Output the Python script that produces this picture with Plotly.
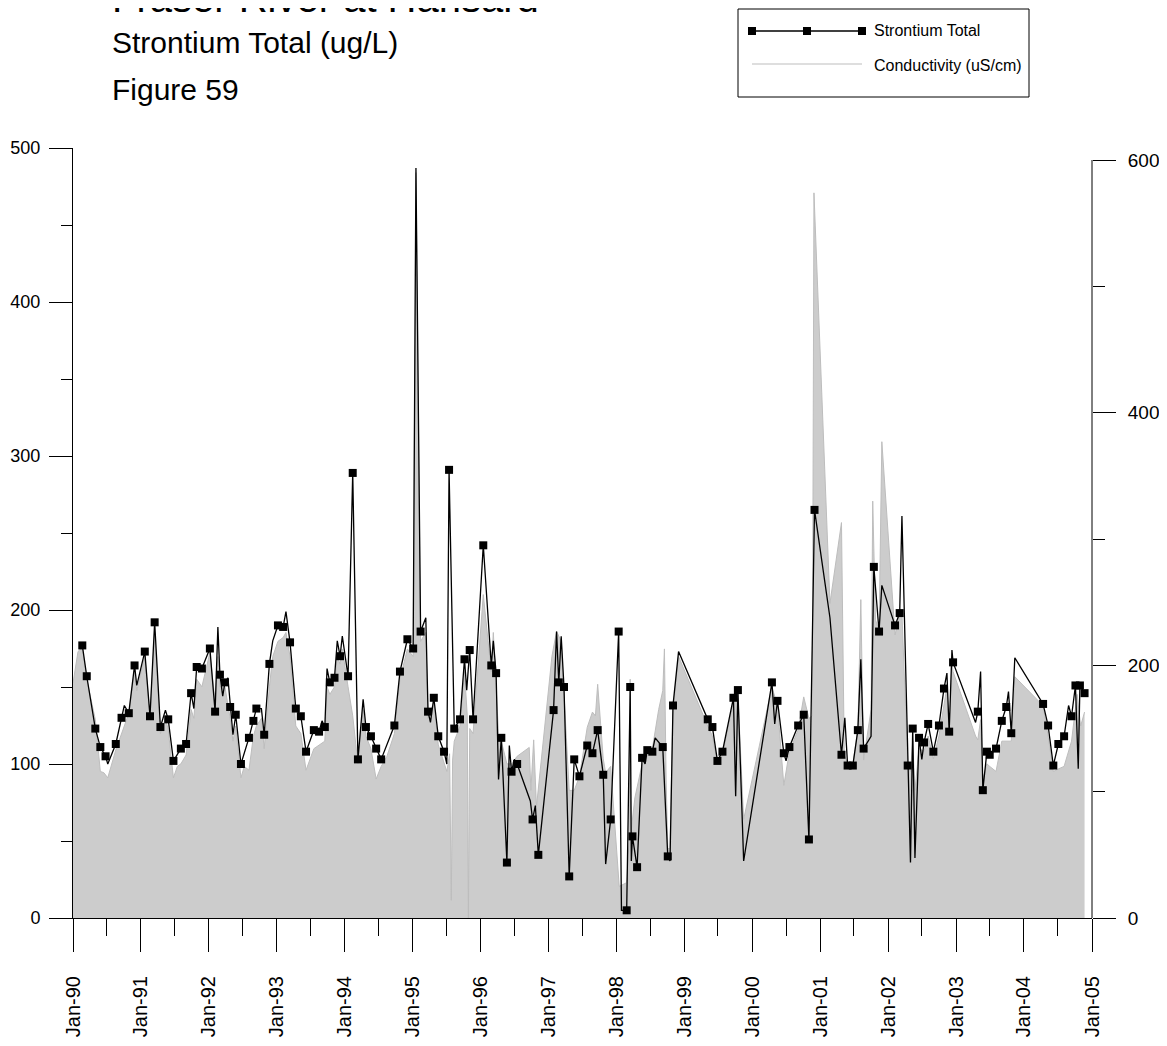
import plotly.graph_objects as go

# Strontium Total (ug/L) - left axis; flag = 1 where the sample marker is drawn
sr_dates = [
    "1990-02-20", "1990-03-16", "1990-05-01", "1990-05-28", "1990-06-25", "1990-07-07", "1990-08-19", "1990-09-19",
    "1990-10-04", "1990-10-28", "1990-11-28", "1990-12-10", "1991-01-22", "1991-02-19", "1991-03-16", "1991-04-16",
    "1991-05-13", "1991-05-28", "1991-06-25", "1991-08-04", "1991-09-01", "1991-09-28", "1991-10-13", "1991-10-28",
    "1991-11-25", "1992-01-07", "1992-02-04", "1992-02-19", "1992-03-01", "1992-03-16", "1992-03-28", "1992-04-13",
    "1992-04-25", "1992-05-10", "1992-05-25", "1992-06-22", "1992-08-04", "1992-08-28", "1992-09-13", "1992-10-10",
    "1992-10-25", "1992-11-22", "1992-12-10", "1993-01-07", "1993-02-04", "1993-02-19", "1993-03-13", "1993-04-13",
    "1993-05-10", "1993-06-07", "1993-07-19", "1993-08-16", "1993-09-01", "1993-09-16", "1993-09-28", "1993-10-13",
    "1993-11-07", "1993-11-22", "1993-12-07", "1993-12-19", "1994-01-19", "1994-02-13", "1994-03-13", "1994-04-10",
    "1994-04-25", "1994-05-22", "1994-06-19", "1994-07-16", "1994-09-25", "1994-10-25", "1994-12-04", "1995-01-04",
    "1995-01-19", "1995-02-13", "1995-03-13", "1995-03-25", "1995-04-07", "1995-04-25", "1995-05-19", "1995-06-19",
    "1995-07-04", "1995-07-16", "1995-08-13", "1995-09-13", "1995-10-07", "1995-10-19", "1995-11-04", "1995-11-22",
    "1996-01-16", "1996-02-28", "1996-03-10", "1996-03-25", "1996-04-07", "1996-04-22", "1996-05-22", "1996-06-04",
    "1996-06-16", "1996-07-01", "1996-07-16", "1996-09-25", "1996-10-07", "1996-10-22", "1996-11-07", "1997-01-28",
    "1997-02-13", "1997-02-25", "1997-03-10", "1997-03-25", "1997-04-22", "1997-05-19", "1997-06-16", "1997-07-28",
    "1997-08-25", "1997-09-22", "1997-10-22", "1997-11-04", "1997-12-01", "1998-01-13", "1998-01-28", "1998-02-25",
    "1998-03-16", "1998-03-22", "1998-03-28", "1998-04-22", "1998-05-19", "1998-06-04", "1998-06-16", "1998-07-13",
    "1998-07-28", "1998-09-07", "1998-10-04", "1998-10-16", "1998-11-01", "1998-12-01", "1999-05-07", "1999-06-01",
    "1999-06-28", "1999-07-25", "1999-09-22", "1999-10-04", "1999-10-16", "1999-11-16", "2000-04-16", "2000-05-01",
    "2000-05-16", "2000-06-19", "2000-07-01", "2000-07-19", "2000-09-04", "2000-10-04", "2000-11-01", "2000-12-01",
    "2001-02-22", "2001-04-25", "2001-05-13", "2001-05-28", "2001-06-25", "2001-07-22", "2001-08-07", "2001-08-22",
    "2001-10-01", "2001-10-16", "2001-11-13", "2001-11-28", "2002-02-07", "2002-03-04", "2002-03-16", "2002-04-16",
    "2002-05-01", "2002-05-13", "2002-05-25", "2002-06-16", "2002-07-01", "2002-07-13", "2002-08-04", "2002-09-01",
    "2002-10-01", "2002-10-28", "2002-11-13", "2002-11-25", "2002-12-10", "2002-12-16", "2003-04-16", "2003-04-28",
    "2003-05-13", "2003-05-25", "2003-06-16", "2003-07-01", "2003-08-04", "2003-09-04", "2003-09-28", "2003-10-10",
    "2003-10-25", "2003-11-13", "2004-04-13", "2004-05-10", "2004-06-07", "2004-07-04", "2004-08-04", "2004-08-28",
    "2004-09-13", "2004-10-04", "2004-10-19", "2004-10-28", "2004-11-22",
]
sr_values = [
    177, 157, 123, 111, 105, 100, 113, 130,
    138, 133, 164, 151, 173, 131, 192, 124,
    135, 129, 102, 110, 113, 146, 136, 163,
    162, 175, 134, 189, 158, 144, 153, 156,
    137, 119, 132, 100, 117, 128, 136, 136,
    119, 165, 180, 190, 189, 199, 179, 136,
    131, 108, 122, 121, 128, 124, 162, 153,
    156, 180, 170, 183, 157, 289, 103, 142,
    124, 118, 110, 103, 125, 160, 181, 175,
    487, 186, 195, 134, 127, 143, 118, 108,
    100, 291, 123, 129, 168, 148, 174, 129,
    242, 164, 180, 159, 90, 117, 36, 112,
    95, 103, 100, 76, 64, 73, 41, 135,
    186, 153, 183, 150, 27, 103, 92, 112,
    107, 122, 93, 35, 64, 186, 5, 5,
    150, 37, 53, 33, 104, 100, 109, 108,
    117, 111, 40, 37, 138, 173, 129, 124,
    102, 108, 143, 79, 148, 37, 153, 126,
    141, 107, 102, 111, 125, 132, 51, 265,
    195, 106, 130, 99, 99, 122, 168, 110,
    118, 228, 186, 216, 190, 198, 261, 99,
    36, 123, 39, 117, 103, 114, 126, 108,
    125, 149, 159, 121, 174, 166, 127, 134,
    160, 83, 108, 106, 110, 128, 137, 147,
    120, 169, 139, 125, 99, 113, 118, 138,
    131, 151, 97, 151, 146,
]
sr_marked = [
    1, 1, 1, 1, 1, 0, 1, 1,
    0, 1, 1, 0, 1, 1, 1, 1,
    0, 1, 1, 1, 1, 1, 0, 1,
    1, 1, 1, 0, 1, 0, 1, 0,
    1, 0, 1, 1, 1, 1, 1, 0,
    1, 1, 0, 1, 1, 0, 1, 1,
    1, 1, 1, 1, 0, 1, 0, 1,
    1, 0, 1, 0, 1, 1, 1, 0,
    1, 1, 1, 1, 1, 1, 1, 1,
    0, 1, 0, 1, 0, 1, 1, 1,
    0, 1, 1, 1, 1, 0, 1, 1,
    1, 1, 0, 1, 0, 1, 1, 0,
    1, 0, 1, 0, 1, 0, 1, 1,
    0, 1, 0, 1, 1, 1, 1, 1,
    1, 1, 1, 0, 1, 1, 0, 1,
    1, 0, 1, 1, 1, 0, 1, 1,
    0, 1, 1, 0, 1, 0, 1, 1,
    1, 1, 1, 0, 1, 0, 1, 0,
    1, 1, 0, 1, 1, 1, 1, 1,
    0, 1, 0, 1, 1, 1, 0, 1,
    0, 1, 1, 0, 1, 1, 0, 1,
    0, 1, 0, 1, 0, 1, 1, 1,
    1, 1, 0, 1, 0, 1, 0, 1,
    0, 1, 1, 1, 1, 1, 1, 0,
    1, 0, 1, 1, 1, 1, 1, 0,
    1, 1, 0, 1, 1,
]

# Conductivity (uS/cm) - right axis
cond_dates = [
    "1990-01-01", "1990-01-28", "1990-02-20", "1990-03-16", "1990-05-01", "1990-05-28", "1990-06-16", "1990-07-07",
    "1990-08-19", "1990-09-19", "1990-10-28", "1990-11-28", "1990-12-10", "1991-01-22", "1991-02-19", "1991-03-16",
    "1991-04-16", "1991-05-13", "1991-05-28", "1991-06-25", "1991-07-16", "1991-08-04", "1991-09-01", "1991-09-28",
    "1991-10-13", "1991-10-28", "1991-11-25", "1992-01-07", "1992-02-04", "1992-02-19", "1992-03-01", "1992-03-28",
    "1992-04-25", "1992-05-10", "1992-05-25", "1992-06-22", "1992-07-10", "1992-08-04", "1992-08-28", "1992-09-13",
    "1992-10-10", "1992-10-25", "1992-11-22", "1992-12-10", "1993-01-07", "1993-02-04", "1993-02-19", "1993-03-13",
    "1993-04-13", "1993-05-10", "1993-06-07", "1993-07-19", "1993-08-16", "1993-09-16", "1993-09-28", "1993-10-13",
    "1993-11-07", "1993-11-22", "1993-12-07", "1993-12-19", "1994-01-19", "1994-02-13", "1994-03-13", "1994-04-10",
    "1994-04-25", "1994-05-22", "1994-06-19", "1994-07-16", "1994-08-16", "1994-09-25", "1994-10-25", "1994-12-04",
    "1995-01-04", "1995-01-19", "1995-02-13", "1995-03-13", "1995-03-25", "1995-04-25", "1995-05-19", "1995-06-19",
    "1995-07-04", "1995-07-19", "1995-07-28", "1995-08-04", "1995-08-13", "1995-09-13", "1995-10-07", "1995-10-22",
    "1995-10-28", "1995-11-04", "1995-11-22", "1996-01-16", "1996-02-28", "1996-03-10", "1996-03-25", "1996-04-07",
    "1996-04-22", "1996-05-22", "1996-06-16", "1996-07-16", "1996-09-19", "1996-09-28", "1996-10-13", "1996-10-28",
    "1997-01-19", "1997-02-13", "1997-03-10", "1997-03-25", "1997-04-22", "1997-05-19", "1997-06-16", "1997-07-28",
    "1997-08-25", "1997-09-10", "1997-09-22", "1997-10-22", "1997-11-04", "1997-12-01", "1997-12-31", "1998-01-16",
    "1998-02-25", "1998-03-10", "1998-03-16", "1998-03-22", "1998-04-10", "1998-04-22", "1998-05-19", "1998-06-16",
    "1998-07-13", "1998-08-16", "1998-09-07", "1998-09-16", "1998-09-25", "1998-10-04", "1998-10-16", "1998-11-01",
    "1998-12-01", "1999-05-07", "1999-06-01", "1999-06-28", "1999-07-25", "1999-09-22", "1999-10-16", "1999-11-16",
    "2000-04-16", "2000-05-16", "2000-06-19", "2000-07-19", "2000-09-04", "2000-10-04", "2000-11-01", "2000-11-19",
    "2000-11-28", "2001-02-22", "2001-04-25", "2001-05-10", "2001-05-28", "2001-06-25", "2001-07-22", "2001-08-07",
    "2001-08-22", "2001-10-01", "2001-10-10", "2001-10-25", "2001-11-13", "2001-11-28", "2002-02-07", "2002-03-04",
    "2002-03-16", "2002-04-16", "2002-05-01", "2002-05-13", "2002-05-25", "2002-06-16", "2002-07-13", "2002-08-04",
    "2002-09-01", "2002-10-01", "2002-10-28", "2002-11-13", "2002-11-25", "2002-12-10", "2002-12-16", "2003-04-16",
    "2003-04-28", "2003-05-13", "2003-05-25", "2003-06-16", "2003-07-01", "2003-08-04", "2003-09-04", "2003-09-28",
    "2003-10-25", "2003-11-13", "2004-04-13", "2004-05-10", "2004-06-07", "2004-07-04", "2004-08-04", "2004-09-13",
    "2004-10-13", "2004-11-01", "2004-11-22",
]
cond_values = [
    186, 211, 214, 189, 157, 116, 115, 111,
    133, 146, 162, 195, 180, 207, 160, 226,
    146, 158, 149, 111, 120, 122, 129, 165,
    158, 189, 183, 210, 171, 207, 183, 183,
    158, 140, 152, 111, 120, 117, 144, 152,
    158, 134, 183, 207, 219, 222, 226, 207,
    152, 146, 117, 134, 137, 140, 183, 177,
    183, 207, 201, 213, 183, 160, 122, 165,
    144, 134, 110, 120, 128, 146, 189, 213,
    207, 590, 219, 226, 158, 171, 137, 122,
    116, 130, 14, 125, 140, 152, 195, 160,
    0, 150, 146, 256, 195, 226, 183, 146,
    140, 122, 122, 128, 135, 101, 141, 88,
    207, 227, 219, 175, 101, 101, 112, 151,
    163, 160, 185, 126, 115, 120, 60, 25,
    28, 60, 189, 70, 95, 104, 122, 128,
    134, 165, 180, 213, 110, 55, 55, 165,
    207, 152, 144, 122, 129, 171, 177, 78,
    183, 168, 105, 132, 149, 175, 158, 160,
    574, 249, 313, 129, 122, 122, 149, 252,
    125, 165, 330, 236, 227, 377, 224, 241,
    241, 122, 116, 140, 101, 134, 132, 144,
    126, 144, 171, 183, 146, 201, 195, 144,
    141, 157, 110, 122, 120, 116, 140, 140,
    140, 191, 168, 144, 116, 118, 120, 140,
    177, 152, 163,
]

title_lines = ["Fraser River at Hansard", "Strontium Total (ug/L)", "Figure 59"]
legend_names = ["Strontium Total", "Conductivity (uS/cm)"]

FONT = "Liberation Sans, Arial, sans-serif"

# page pixels (the html body adds an 8px margin, so the figure is sized to fit)
PAGE = 8
W, H = 1167 - PAGE, 1046 - PAGE
L, R, T, B = 73, 1092, 148, 918


def px(x):
    return (x - L) / (R - L)


def py(y):
    return (B - y) / (B - T)


fig = go.Figure()

fig.add_trace(go.Scatter(
    x=cond_dates, y=cond_values, yaxis="y", mode="lines",
    fill="tozeroy", fillcolor="#cccccc",
    line=dict(color="#bdbdbd", width=1),
    name=legend_names[1],
))

fig.add_trace(go.Scatter(
    x=sr_dates, y=sr_values, yaxis="y2", mode="lines+markers",
    line=dict(color="black", width=1.3),
    marker=dict(symbol="square", color="#000000", opacity=1,
                size=[8 if m else 0 for m in sr_marked], line=dict(width=0)),
    name=legend_names[0],
))

shapes = [
    # right axis line only runs 0..600
    dict(type="line", xref="paper", yref="y", x0=1, x1=1, y0=0, y1=600,
         line=dict(color="black", width=1)),
    # legend box
    dict(type="rect", xref="paper", yref="paper", x0=px(738), x1=px(1029), y0=py(9), y1=py(97),
         line=dict(color="black", width=1), fillcolor="white"),
    dict(type="line", xref="paper", yref="paper", x0=px(752), x1=px(862), y0=py(31), y1=py(31),
         line=dict(color="black", width=1.5)),
    dict(type="line", xref="paper", yref="paper", x0=px(752), x1=px(862), y0=py(64), y1=py(64),
         line=dict(color="#bdbdbd", width=1)),
]
for mx in (752, 807, 862):
    shapes.append(dict(type="rect", xref="paper", yref="paper",
                       x0=px(mx - 4), x1=px(mx + 4), y0=py(35), y1=py(27),
                       line=dict(width=0), fillcolor="black"))

annotations = [
    dict(text=title_lines[0], x=px(110), y=py(-2), font=dict(size=40)),
    dict(text=title_lines[1], x=px(110), y=py(42), font=dict(size=30)),
    dict(text=title_lines[2], x=px(110), y=py(89), font=dict(size=30)),
    dict(text=legend_names[0], x=px(872), y=py(31), font=dict(size=16)),
    dict(text=legend_names[1], x=px(872), y=py(65), font=dict(size=16)),
]
for a in annotations:
    a.update(xref="paper", yref="paper", xanchor="left", yanchor="middle", showarrow=False)
    a["font"].update(family=FONT, color="black")

fig.update_layout(
    width=W, height=H,
    margin=dict(l=L - PAGE, r=W - (R - PAGE), t=T - PAGE, b=H - (B - PAGE), autoexpand=False),
    paper_bgcolor="white", plot_bgcolor="white",
    showlegend=False,
    shapes=shapes,
    annotations=annotations,
    xaxis=dict(
        type="date", range=["1990-01-01", "2005-01-01"], automargin=False,
        tick0="1990-01-01", dtick="M12", tickformat="%b-%y", tickangle=-90,
        ticks="outside", ticklen=33, tickcolor="black", tickwidth=1,
        minor=dict(tick0="1990-01-01", dtick="M6", ticks="outside", ticklen=17,
                   tickcolor="black", showgrid=False),
        showline=True, linecolor="black", linewidth=1,
        showgrid=False, zeroline=False,
        tickfont=dict(family=FONT, size=20, color="black"),
        ticklabelstandoff=16,
    ),
    yaxis=dict(
        side="right", range=[0, 609.5], automargin=False,
        tickvals=[0, 200, 400, 600],
        ticks="outside", ticklen=23, tickcolor="black",
        minor=dict(tickvals=[100, 300, 500], ticks="outside", ticklen=12, tickcolor="black", showgrid=False),
        showline=False, showgrid=False, zeroline=False,
        tickfont=dict(family=FONT, size=19, color="black"),
        ticklabelstandoff=8,
    ),
    yaxis2=dict(
        overlaying="y", side="left", range=[0, 500], dtick=100, automargin=False,
        ticks="outside", ticklen=23, tickcolor="black",
        minor=dict(dtick=50, ticks="outside", ticklen=11, tickcolor="black", showgrid=False),
        showline=True, linecolor="black", linewidth=1,
        showgrid=False, zeroline=False,
        tickfont=dict(family=FONT, size=18, color="black"),
        ticklabelstandoff=5,
    ),
)

fig.write_html("out.html")
